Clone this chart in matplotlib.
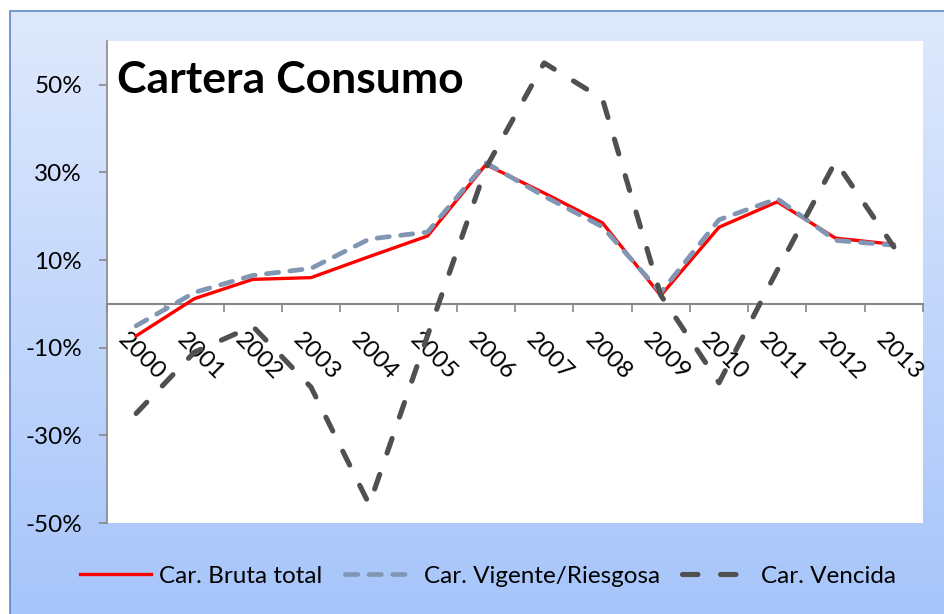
import matplotlib
matplotlib.use("Agg")
import matplotlib.pyplot as plt
import numpy as np
from matplotlib.patches import Rectangle
from matplotlib.colors import LinearSegmentedColormap

plt.rcParams['font.family'] = ['Lato', 'DejaVu Sans']

# data (annual growth, %)
years = ["2000", "2001", "2002", "2003", "2004", "2005", "2006",
         "2007", "2008", "2009", "2010", "2011", "2012", "2013"]
bruta = [-7.3, 1.2, 5.6, 6.0, 10.8, 15.5, 31.8, 25.3, 18.5, 1.9, 17.5, 23.3, 15.0, 13.6]
vigente = [-5.0, 2.6, 6.5, 8.1, 14.8, 16.4, 32.2, 24.6, 17.6, 2.6, 19.2, 24.0, 14.5, 13.4]
vencida = [-25.0, -11.0, -5.1, -19.0, -45.8, -7.2, 31.0, 55.0, 46.8, 2.0, -18.0, 7.7, 32.5, 13.0]
yticks = [-50, -30, -10, 10, 30, 50]

fig = plt.figure(figsize=(9.44, 6.14), dpi=100)

# gradient background with frame
bg = fig.add_axes([0, 0, 1, 1], zorder=-10)
bg.axis("off")
cmap = LinearSegmentedColormap.from_list("bg", ["#dfe9fc", "#a7c5fa"])
grad = np.linspace(0, 1, 256).reshape(-1, 1)
bg.imshow(grad, cmap=cmap, aspect="auto", extent=[10 / 944, 1, 0, 1 - 11 / 614])
bg.set_xlim(0, 1)
bg.set_ylim(0, 1)
bg.add_patch(Rectangle((10 / 944, -0.1), 1.2, 1.1 - 11 / 614, fill=False,
                       edgecolor="#5b86c8", lw=1.2))

ax = fig.add_axes([107 / 944, 1 - 523 / 614, 816 / 944, 482 / 614])
ax.set_facecolor("white")
x = np.arange(len(years))

ax.plot(x, bruta, color="#ff0000", lw=2.4, label="Car. Bruta total", zorder=3)
ax.plot(x, vigente, color="#8096b2", lw=3.4, dashes=(2.6, 2.4),
        dash_capstyle="round", label="Car. Vigente/Riesgosa", zorder=4)
ax.plot(x, vencida, color="#505050", lw=3.7, dashes=(3.0, 4.4),
        dash_capstyle="round", label="Car. Vencida", zorder=5)

ax.set_xlim(-0.5, len(years) - 0.5)
ax.set_ylim(-50, 60)
ax.set_yticks(yticks)
ax.set_yticklabels([f"{v}%" for v in yticks])
ax.tick_params(axis="y", labelsize=17.5, length=6, width=1.2, color="#888888", pad=12)

ax.spines["top"].set_visible(False)
ax.spines["right"].set_visible(False)
ax.spines["left"].set_color("#888888")
ax.spines["left"].set_linewidth(1.2)
ax.spines["bottom"].set_position(("data", 0))
ax.spines["bottom"].set_color("#888888")
ax.spines["bottom"].set_linewidth(1.5)
ax.set_xticks(np.arange(-0.5, len(years)))
ax.set_xticklabels([])
ax.tick_params(axis="x", length=6, width=1.2, color="#888888")

for i, yr in enumerate(years):
    ax.annotate(yr, xy=(i, 0), xytext=(-7, -25), textcoords="offset pixels",
                ha="left", va="top", rotation=-45, rotation_mode="anchor",
                fontsize=17.5, zorder=2)

ax.text(0.012, 0.96, "Cartera Consumo", transform=ax.transAxes,
        fontsize=32, fontweight="bold", ha="left", va="top")

fig.legend(loc="center", bbox_to_anchor=(488 / 944, 1 - 576 / 614), ncol=3,
           frameon=False, fontsize=17.5, handlelength=2.9, handletextpad=0.35,
           columnspacing=0.9)

fig.savefig("out.png", dpi=100)
